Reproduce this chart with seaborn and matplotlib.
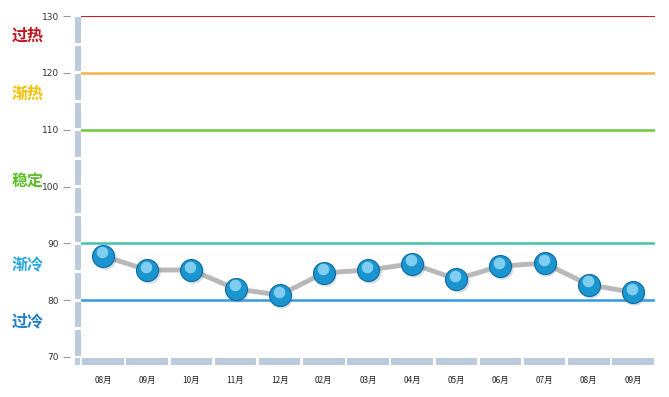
import seaborn as sns
import matplotlib.pyplot as plt
import matplotlib.transforms as mtransforms
from matplotlib.patches import Rectangle
import pandas as pd

months = ["08月", "09月", "10月", "11月", "12月", "02月", "03月", "04月", "05月", "06月", "07月", "08月", "09月"]
values = [87.8, 85.3, 85.3, 82.0, 80.9, 84.8, 85.3, 86.4, 83.7, 86.0, 86.5, 82.7, 81.4]

levels = [130, 120, 110, 90, 80]
level_colors = ["#c8202a", "#f7b24a", "#6cc93c", "#33bbee", "#3399e6"]
zone_names = ["过热", "渐热", "稳定", "渐冷", "过冷"]
zone_y = [126.5, 116.3, 101.0, 86.2, 76.2]
zone_colors = ["#c0141c", "#f5c000", "#5cbf2a", "#29a8e0", "#1f7fc4"]

sns.set_style("white")
plt.rcParams['font.family'] = ['Noto Sans CJK SC', 'DejaVu Sans']

df = pd.DataFrame({"idx": range(len(months)), "value": values})

fig = plt.figure(figsize=(6.69, 3.97), dpi=100)
ax = fig.add_axes([81 / 669, 40 / 397, 574 / 669, 341 / 397])
for s in ax.spines.values():
    s.set_visible(False)
ax.spines["left"].set_position(("outward", 8))

ax.set_xlim(-0.5, len(months) - 0.5)
ax.set_ylim(70, 130)

# level lines
for lv, c in zip(levels, level_colors):
    ax.axhline(lv, color=c, lw=1.8 if lv != 130 else 1.5, zorder=1)
# thin green line on top of the 90 line
off = mtransforms.offset_copy(ax.transData, fig=fig, x=0, y=1.6, units='dots')
ax.plot([-0.5, len(months) - 0.5], [90, 90], color="#8fd86a", lw=0.8, transform=off, zorder=1.5)

# data line and markers
sns.lineplot(data=df, x="idx", y="value", ax=ax, color="#b8b8b8", lw=3.5, zorder=2)
shadow = mtransforms.offset_copy(ax.transData, fig=fig, x=1.5, y=-2, units='dots')
ax.scatter(df["idx"], df["value"], s=260, color="#6a8aa0", alpha=0.3, transform=shadow, zorder=3, linewidths=0)
sns.scatterplot(data=df, x="idx", y="value", ax=ax, s=250, color="#1b95cf",
                edgecolor="#0d6aa0", linewidth=0.8, zorder=4, legend=False)
hl = mtransforms.offset_copy(ax.transData, fig=fig, x=-1, y=3.5, units='dots')
ax.scatter(df["idx"], df["value"], s=70, color="#7fcdef", transform=hl, zorder=5, linewidths=0,
           marker="o")

# left bar (segmented every 5 units)
bar_l = mtransforms.blended_transform_factory(fig.transFigure, ax.transData)
bar_b = mtransforms.blended_transform_factory(ax.transData, fig.transFigure)
bar_color = "#bccbdb"
for y0 in range(70, 130, 5):
    ax.add_patch(Rectangle((75 / 669, y0 + 0.25), 6 / 669, 4.5, transform=bar_l,
                           color=bar_color, clip_on=False, zorder=0, lw=0))
for i in range(len(months)):
    ax.add_patch(Rectangle((i - 0.5 + 0.03, 32 / 397), 0.94, 7 / 397, transform=bar_b,
                           color=bar_color, clip_on=False, zorder=0, lw=0))
ax.add_patch(Rectangle((75 / 669, 32 / 397), 5 / 669, 7 / 397, transform=fig.transFigure,
                       color=bar_color, clip_on=False, zorder=0, lw=0))

# zone labels
for name, yv, c in zip(zone_names, zone_y, zone_colors):
    ax.text(12 / 669, yv, name, transform=bar_l, color=c, fontsize=11.5,
            fontweight="bold", va="center", ha="left")

ax.set_xticks(range(len(months)))
ax.set_xticklabels(months, fontsize=6, color="#222222")
ax.set_yticks(range(70, 131, 10))
ax.set_yticklabels([str(v) for v in range(70, 131, 10)], fontsize=6.5, color="#333333",
                   fontfamily="DejaVu Sans")
ax.tick_params(axis="x", length=0, pad=14)
ax.tick_params(axis="y", length=5, color="#999999", pad=3, left=True)
ax.set_xlabel("")
ax.set_ylabel("")
ax.grid(False)

fig.savefig("out.png", dpi=100)
